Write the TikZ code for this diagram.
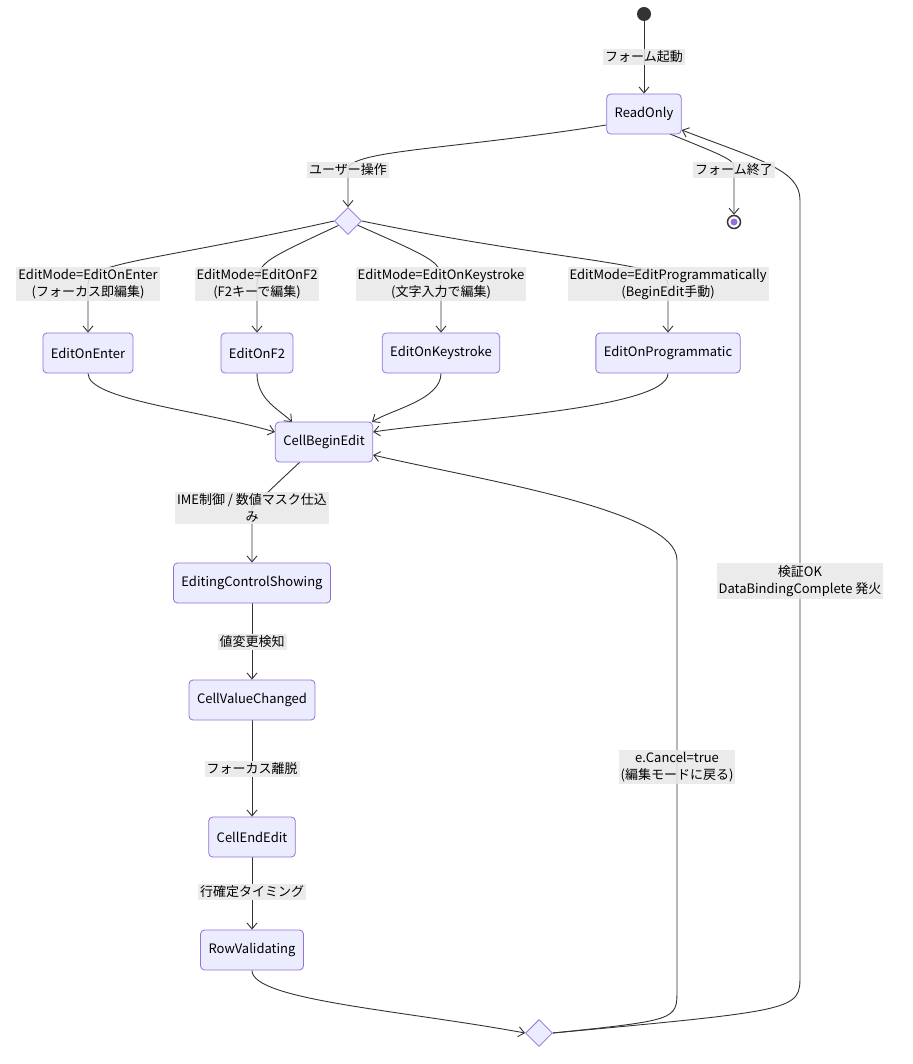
\documentclass[tikz,border=0pt]{standalone}
\usepackage{fontspec}
\setmainfont{Noto Sans CJK JP}
\usetikzlibrary{shapes.geometric,arrows.meta}
\pgfdeclarelayer{bg}\pgfsetlayers{bg,main}
\definecolor{boxfill}{HTML}{ECECFF}
\definecolor{boxline}{HTML}{9370DB}
\definecolor{edge}{HTML}{333333}
\definecolor{lblbg}{HTML}{E8E8E8}
\begin{document}
\begin{tikzpicture}[x=1pt,y=-1pt,
  every node/.style={font=\fontsize{13}{17}\selectfont},
  st/.style={draw=boxline,fill=boxfill,rounded corners=4pt,minimum height=40pt,inner xsep=8pt,line width=0.8pt},
  ch/.style={diamond,draw=boxline,fill=boxfill,minimum size=27pt,inner sep=0pt,line width=0.8pt},
  lbl/.style={fill=lblbg,fill opacity=0.85,text opacity=1,inner sep=2pt,align=center},
  arr/.style={draw=edge,line width=0.9pt,-{Straight Barb[length=6pt,width=10pt]}}]
\useasboundingbox (0,0) rectangle (912,1064);
\node[circle,fill=edge,minimum size=14pt,inner sep=0pt] (start) at (644,14) {};
\node[st] (ro) at (644,114) {ReadOnly};
\node[circle,draw=edge,line width=1.5pt,fill=white,minimum size=13pt,inner sep=0pt] (end) at (734,222) {};
\node[circle,fill=boxline,minimum size=7pt,inner sep=0pt] (endin) at (734,222) {};
\node[ch] (c1) at (348,221) {};
\node[st] (eoe) at (88,353) {EditOnEnter};
\node[st] (ef2) at (257,353) {EditOnF2};
\node[st] (eok) at (441,353) {EditOnKeystroke};
\node[st] (eop) at (668,353) {EditOnProgrammatic};
\node[st] (cbe) at (324,442) {CellBeginEdit};
\node[st] (ecs) at (252,583) {EditingControlShowing};
\node[st] (cvc) at (252,700) {CellValueChanged};
\node[st] (cee) at (252,837) {CellEndEdit};
\node[st] (rv) at (252,950) {RowValidating};
\node[ch] (c2) at (539,1033) {};

\node[lbl] (l0) at (644,57) {フォーム起動};
\node[lbl] (l1) at (348,170) {ユーザー操作};
\node[lbl] (l2) at (734,170) {フォーム終了};
\node[lbl] (l3) at (88,284) {EditMode=EditOnEnter\\(フォーカス即編集)};
\node[lbl] (l4) at (257,284) {EditMode=EditOnF2\\(F2キーで編集)};
\node[lbl] (l5) at (441,284) {EditMode=EditOnKeystroke\\(文字入力で編集)};
\node[lbl] (l6) at (668,284) {EditMode=EditProgrammatically\\(BeginEdit手動)};
\node[lbl] (l7) at (252,508) {IME制御 / 数値マスク仕込\\み};
\node[lbl] (l8) at (252,642) {値変更検知};
\node[lbl] (l9) at (252,769) {フォーカス離脱};
\node[lbl] (l10) at (252,892) {行確定タイミング};
\node[lbl] (l11) at (677,767) {e.Cancel=true\\(編集モードに戻る)};
\node[lbl] (l12) at (800,581) {検証OK\\DataBindingComplete 発火};

\coordinate (k1) at (677,560);
\coordinate (k2) at (677,990);
\coordinate (o1) at (800,200);
\coordinate (o2) at (800,975);

\begin{pgfonlayer}{bg}
\draw[arr] (start) -- (ro);
\draw[arr] (ro.west|-0,125) .. controls (450,150) and (348,150) .. (l1.center) -- (c1.north);
\draw[arr] (670,134) .. controls (734,160) .. (l2.center) -- (end.north);
\draw[arr] (c1.west) .. controls (150,262) and (88,262) .. (l3.center) -- (88,305) .. controls (88,318) .. (eoe.north);
\draw[arr] (c1) .. controls (260,262) .. (l4.center) -- (257,305) -- (ef2.north);
\draw[arr] (c1) .. controls (441,262) .. (l5.center) -- (441,305) -- (eok.north);
\draw[arr] (c1.east) .. controls (560,262) and (668,262) .. (l6.center) -- (668,305) .. controls (668,318) .. (eop.north);
\draw[arr] (eoe.south) .. controls (88,400) and (200,410) .. (cbe.west|-0,432);
\draw[arr] (ef2.south) .. controls (257,400) and (280,410) .. (292,422);
\draw[arr] (eok.south) .. controls (441,400) and (390,410) .. (372,422);
\draw[arr] (eop.south) .. controls (668,410) and (450,420) .. (cbe.east|-0,432);
\draw[arr] (300,462) .. controls (270,490) .. (l7.center) -- (252,540) .. controls (252,550) .. (ecs.north);
\draw[arr] (ecs) -- (l8) -- (cvc);
\draw[arr] (cvc) -- (l9) -- (cee);
\draw[arr] (cee) -- (l10) -- (rv);
\draw[arr] (rv.south) .. controls (252,1000) and (400,1010) .. (c2.west);
\draw[arr] (c2.east) .. controls (677,1020) .. (k2) -- (l11.center) -- (k1) .. controls (677,510) and (480,480) .. (cbe.east|-0,455);
\draw[arr] (c2.east) .. controls (800,1010) .. (o2) -- (l12.center) -- (o1) .. controls (800,170) and (760,160) .. (ro.east|-0,130);
\end{pgfonlayer}
\end{tikzpicture}
\end{document}
